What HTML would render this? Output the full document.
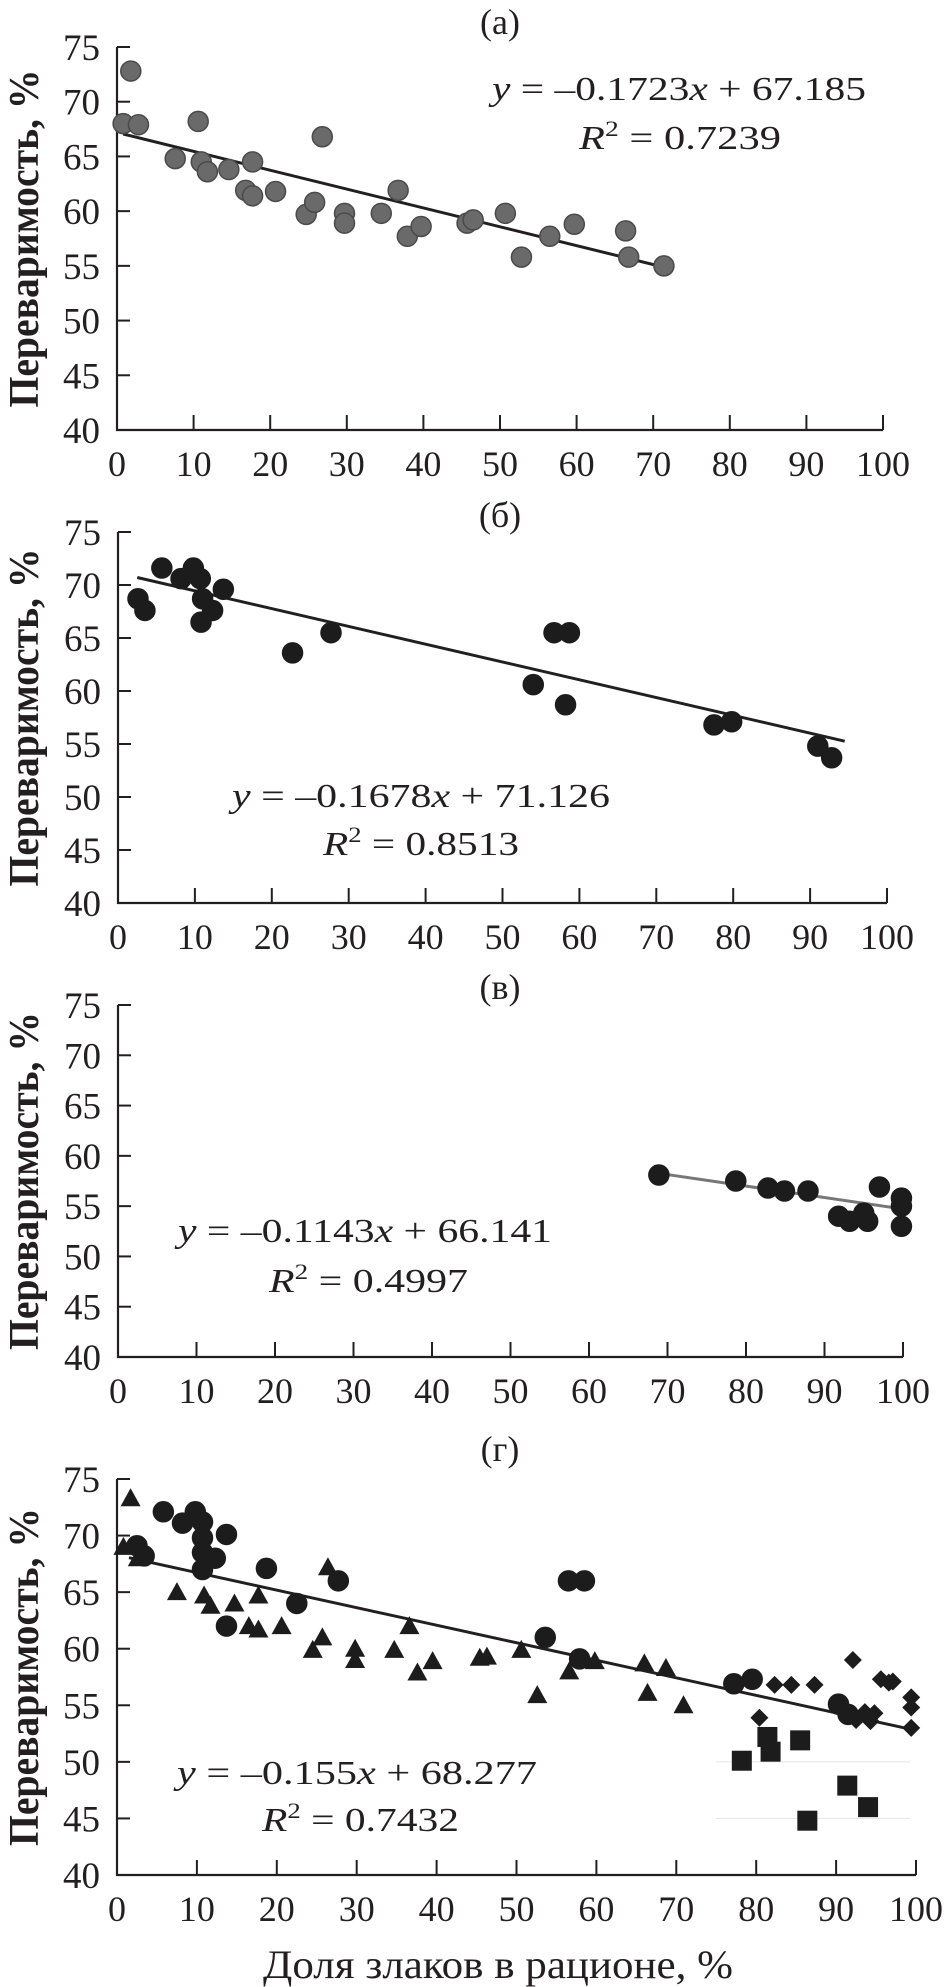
<!DOCTYPE html>
<html><head><meta charset="utf-8"><style>
html,body{margin:0;padding:0;background:#fff}
svg{display:block}
text{font-family:"Liberation Serif","DejaVu Serif",serif;fill:#231f20}
</style></head><body>
<svg id="fig" width="946" height="1987" viewBox="0 0 946 1987" xmlns="http://www.w3.org/2000/svg"></svg>
<script>
const xTicks=[0,10,20,30,40,50,60,70,80,90,100];
const yTicks=[40,45,50,55,60,65,70,75];
// panel а
const aX=[0.8,1.8,2.8,7.6,10.6,11.0,11.8,14.6,16.8,17.7,17.7,20.7,24.7,25.8,26.8,29.7,29.7,34.5,36.7,37.9,39.7,45.7,46.5,50.7,52.8,56.5,59.7,66.4,66.8,71.4];
const aY=[68.0,72.8,67.9,64.8,68.2,64.5,63.6,63.8,61.9,61.4,64.5,61.8,59.7,60.8,66.8,59.8,58.9,59.8,61.9,57.7,58.6,58.9,59.2,59.8,55.8,57.7,58.8,58.2,55.8,55.0];
// panel б
const bX=[2.6,3.5,5.7,8.2,9.8,10.7,11.0,10.8,12.3,13.7,22.7,27.7,54.0,56.7,58.7,58.2,77.5,79.8,91.0,92.8];
const bY=[68.7,67.6,71.6,70.6,71.6,70.6,68.7,66.5,67.6,69.6,63.6,65.5,60.6,65.5,65.5,58.7,56.8,57.1,54.8,53.7];
// panel в
const vX=[68.9,78.7,82.8,84.9,87.9,91.8,93.2,95.0,95.5,97.0,99.8,99.8,99.8];
const vY=[58.1,57.5,56.8,56.5,56.5,54.0,53.5,54.3,53.5,56.9,55.8,55.0,53.0];
// panel г
const gCircX=[2.5,3.4,5.8,8.2,9.8,10.7,10.7,10.7,10.7,12.3,13.7,13.7,18.7,22.5,27.7,53.6,56.5,58.5,57.9,77.2,79.5,90.3,91.5];
const gCircY=[69.1,68.2,72.1,71.1,72.1,71.2,69.8,68.5,67.0,68.0,70.1,62.0,67.1,64.0,66.0,61.0,66.0,66.0,59.1,56.9,57.3,55.1,54.2];
const gTriX=[0.8,1.7,2.6,7.5,10.9,11.7,14.7,16.5,17.7,17.7,20.6,24.5,25.7,26.4,29.8,29.8,34.7,36.6,37.6,39.5,45.4,46.3,50.6,52.6,56.6,59.8,66.0,66.4,68.7,70.9];
const gTriY=[69.0,73.3,68.0,65.0,64.7,63.8,64.0,62.0,61.7,64.7,62.0,59.9,61.0,67.2,60.0,59.0,59.9,62.0,57.9,58.9,59.2,59.3,59.9,55.9,58.0,58.9,58.7,56.1,58.3,55.0];
const gDiaX=[80.4,82.3,84.4,87.3,92.1,92.5,93.6,94.3,94.8,95.6,96.6,97.1,99.4,99.4,99.4];
const gDiaY=[53.9,56.8,56.8,56.8,59.0,53.7,54.4,53.6,54.3,57.3,57.0,57.1,55.7,54.8,53.0];
const gSqX=[78.2,81.4,81.8,85.5,91.4,94.0,86.4];
const gSqY=[50.1,52.2,50.9,51.9,47.9,46.0,44.8];

const NS="http://www.w3.org/2000/svg";
const svg=document.getElementById('fig');
function el(tag,attrs,parent,txt){const e=document.createElementNS(NS,tag);for(const k in attrs)e.setAttribute(k,attrs[k]);if(txt!==undefined)e.textContent=txt;(parent||svg).appendChild(e);return e;}

function panel(id,title,titleY,x0,x100,y75,y40,eq,fit){
  const g=el('g',{});
  
  
  const sx=v=>x0+(x100-x0)*v/100;
  const sy=v=>y40-(y40-y75)*(v-40)/35;
  const t=el('text',{x:500,y:titleY+12,'font-size':36,'text-anchor':'middle'},g,title);
  
  
  const ax=el('path',{d:`M${x0} ${y75}V${y40}H${x100}`,stroke:'#231f20','stroke-width':2.2,fill:'none'},g);
  
  
  yTicks.forEach(v=>{
    el('line',{x1:x0,x2:x0+13,y1:sy(v),y2:sy(v),stroke:'#231f20','stroke-width':2},g);
    const l=el('text',{x:x0-17,y:sy(v)+13,'font-size':37,'text-anchor':'end'},g,String(v));
    
    
  });
  xTicks.forEach(v=>{
    if(v>0)el('line',{x1:sx(v),x2:sx(v),y1:y40,y2:y40-15,stroke:'#231f20','stroke-width':2},g);
    const l=el('text',{x:sx(v),y:y40+46,'font-size':36,'text-anchor':'middle'},g,String(v));
    
    
  });
  const cy=(y75+y40)/2;
  const yt=el('text',{x:0,y:0,'font-size':42,'font-weight':'bold','text-anchor':'middle',textLength:338,lengthAdjust:'spacingAndGlyphs',transform:`translate(38 ${cy}) rotate(-90)`},g,'Переваримость, %');
  
  
  const ln=el('line',{x1:sx(fit[0]),y1:sy(fit[2]+fit[3]*fit[0]),x2:sx(fit[1]),y2:sy(fit[2]+fit[3]*fit[1]),stroke:fit[4]||'#231f20','stroke-width':3},g);
  
  
  const e1=el('text',{x:eq[0],y:eq[2]+12,'font-size':34,textLength:eq[1]-eq[0],lengthAdjust:'spacingAndGlyphs'},g);
  
  
  el('tspan',{'font-style':'italic'},e1,'y');
  el('tspan',{},e1,' = –'+eq[6]);
  el('tspan',{'font-style':'italic'},e1,'x');
  el('tspan',{},e1,' + '+eq[7]);
  const e2=el('text',{x:eq[3],y:eq[5]+12,'font-size':34,textLength:eq[4]-eq[3],lengthAdjust:'spacingAndGlyphs'},g);
  
  
  el('tspan',{'font-style':'italic'},e2,'R');
  el('tspan',{'font-size':22,dy:-13},e2,'2');
  el('tspan',{dy:13},e2,' = '+eq[8]);
  return {g,sx,sy};
}
function circles(p,X,Y,fill,stroke,r){
  X.forEach((x,i)=>{const c=el('circle',{cx:p.sx(x),cy:p.sy(Y[i]),r:r,fill:fill,stroke:stroke,'stroke-width':1.5},p.g);
    
    });
}

const pa=panel('a','(а)',22,117,883,47,430,[492,866,88,579,781,137,'0.1723','67.185','0.7239'],[0.8,72.6,67.185,-0.1723]);
circles(pa,aX,aY,'#6a6a6a','#4a4a4a',10);
const pb=panel('b','(б)',515,118,887,532,903,[232,610,795,323,519,843,'0.1678','71.126','0.8513'],[2.5,94.5,71.126,-0.1678]);
circles(pb,bX,bY,'#1c1c1c','#1c1c1c',10);
const pv=panel('v','(в)',987,118,903,1005,1357,[178,552,1230,269,468,1280,'0.1143','66.141','0.4997'],[68.9,100,66.141,-0.1143,'#777']);
circles(pv,vX,vY,'#1c1c1c','#1c1c1c',10);
const pg=panel('g','(г)',1449,117,916,1479,1875,[177,537,1772,262,459,1819,'0.155','68.277','0.7432'],[1.5,100,68.277,-0.155]);
[50,45].forEach(v=>{const l=el('line',{x1:716,x2:910,y1:pg.sy(v),y2:pg.sy(v),stroke:'#e4e4e4','stroke-width':1},pg.g);
  
  });
circles(pg,gCircX,gCircY,'#1c1c1c','#1c1c1c',10);
gTriX.forEach((x,i)=>{const cx=pg.sx(x),cy=pg.sy(gTriY[i]);
  const t=el('polygon',{points:`${cx},${cy-10} ${cx-10},${cy+8} ${cx+10},${cy+8}`,fill:'#1c1c1c'},pg.g);
  
  });
gDiaX.forEach((x,i)=>{const cx=pg.sx(x),cy=pg.sy(gDiaY[i]);
  const d=el('polygon',{points:`${cx},${cy-9} ${cx+9},${cy} ${cx},${cy+9} ${cx-9},${cy}`,fill:'#1c1c1c'},pg.g);
  
  });
gSqX.forEach((x,i)=>{const cx=pg.sx(x),cy=pg.sy(gSqY[i]);
  const s=el('rect',{x:cx-10,y:cy-10,width:20,height:20,fill:'#1c1c1c'},pg.g);
  
  });
const xt=el('text',{x:498,y:1978,'font-size':40,'text-anchor':'middle',textLength:470,lengthAdjust:'spacingAndGlyphs'},svg,'Доля злаков в рационе, %');


</script>
</body></html>
